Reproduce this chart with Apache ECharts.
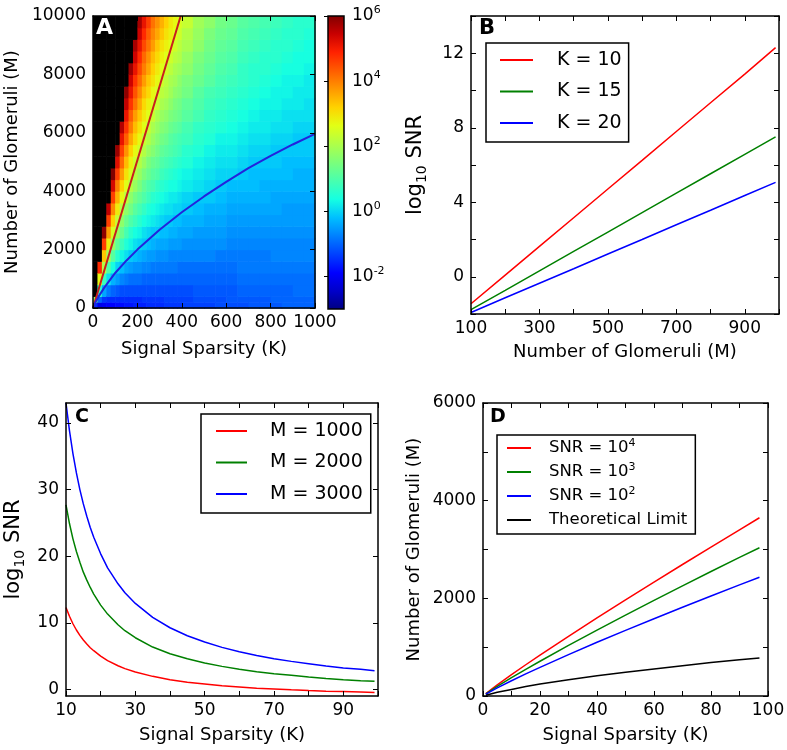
<!DOCTYPE html>
<html><head><meta charset="utf-8">
<script src="https://cdn.jsdelivr.net/npm/echarts@6/dist/echarts.min.js"></script>
<style>html,body{margin:0;padding:0;background:#fff}#c{width:787px;height:750px}</style>
</head><body><div id="c"></div>
<script>
// ---------------- Panel A: log10 SNR map (columns of K, rows of M, bottom to top)
const kEdgesA = [0,20,40,60,80,100,120,140,160,180,200,220,240,260,280,300,320,340,360,380,400,450,500,550,600,650,700,750,800,850,900,950,1000];
const mEdgesA = [0,200,400,800,1200,1600,2000,2400,2800,3200,3600,4000,4400,4800,5200,5600,6000,6400,6800,7200,7600,8000,8400,8800,9200,9600,10000];
// 7 marks cells that are above the colour scale (drawn black)
const logSnrA = [
 [-1.5,1.7,7,7,7,7,7,7,7,7,7,7,7,7,7,7,7,7,7,7,7,7,7,7,7,7],
 [-2.1,-1.0,0.6,2.7,4.8,7,7,7,7,7,7,7,7,7,7,7,7,7,7,7,7,7,7,7,7,7],
 [-2.0,-1.4,-0.4,0.8,2.1,3.3,4.6,5.9,7,7,7,7,7,7,7,7,7,7,7,7,7,7,7,7,7,7],
 [-1.9,-1.5,-0.8,0.1,1.0,1.9,2.8,3.7,4.6,5.5,7,7,7,7,7,7,7,7,7,7,7,7,7,7,7,7],
 [-1.9,-1.5,-1.0,-0.3,0.4,1.1,1.8,2.5,3.2,3.9,4.6,5.3,6.0,7,7,7,7,7,7,7,7,7,7,7,7,7],
 [-1.8,-1.5,-1.1,-0.5,0.0,0.6,1.2,1.8,2.3,2.9,3.5,4.0,4.6,5.2,5.8,7,7,7,7,7,7,7,7,7,7,7],
 [-1.8,-1.5,-1.2,-0.7,-0.2,0.3,0.8,1.3,1.7,2.2,2.7,3.2,3.7,4.2,4.6,5.1,5.6,7,7,7,7,7,7,7,7,7],
 [-1.7,-1.5,-1.2,-0.8,-0.4,0.1,0.5,0.9,1.3,1.7,2.2,2.6,3.0,3.4,3.8,4.3,4.7,5.1,5.5,5.9,7,7,7,7,7,7],
 [-1.7,-1.5,-1.2,-0.9,-0.5,-0.1,0.3,0.6,1.0,1.4,1.7,2.1,2.5,2.8,3.2,3.6,4.0,4.3,4.7,5.1,5.4,5.8,7,7,7,7],
 [-1.6,-1.5,-1.2,-0.9,-0.6,-0.2,0.1,0.4,0.8,1.1,1.4,1.8,2.1,2.4,2.7,3.1,3.4,3.7,4.1,4.4,4.7,5.1,5.4,5.7,7,7],
 [-1.6,-1.5,-1.2,-0.9,-0.6,-0.3,0.0,0.3,0.6,0.9,1.2,1.5,1.8,2.1,2.4,2.7,3.0,3.3,3.6,3.9,4.2,4.5,4.8,5.1,5.4,5.7],
 [-1.6,-1.4,-1.2,-1.0,-0.7,-0.4,-0.1,0.1,0.4,0.7,1.0,1.2,1.5,1.8,2.1,2.3,2.6,2.9,3.1,3.4,3.7,4.0,4.2,4.5,4.8,5.1],
 [-1.5,-1.4,-1.2,-1.0,-0.7,-0.5,-0.2,0.0,0.3,0.5,0.8,1.0,1.3,1.5,1.8,2.1,2.3,2.6,2.8,3.1,3.3,3.6,3.8,4.1,4.3,4.6],
 [-1.5,-1.4,-1.2,-1.0,-0.8,-0.5,-0.3,-0.1,0.2,0.4,0.6,0.9,1.1,1.3,1.6,1.8,2.0,2.3,2.5,2.7,3.0,3.2,3.4,3.7,3.9,4.1],
 [-1.5,-1.4,-1.2,-1.0,-0.8,-0.6,-0.4,-0.1,0.1,0.3,0.5,0.7,1.0,1.2,1.4,1.6,1.8,2.0,2.3,2.5,2.7,2.9,3.1,3.3,3.6,3.8],
 [-1.5,-1.4,-1.2,-1.0,-0.8,-0.6,-0.4,-0.2,0.0,0.2,0.4,0.6,0.8,1.0,1.2,1.4,1.6,1.8,2.0,2.2,2.4,2.6,2.8,3.0,3.3,3.5],
 [-1.4,-1.3,-1.2,-1.0,-0.8,-0.6,-0.4,-0.2,-0.1,0.1,0.3,0.5,0.7,0.9,1.1,1.3,1.5,1.7,1.9,2.1,2.2,2.4,2.6,2.8,3.0,3.2],
 [-1.4,-1.3,-1.2,-1.0,-0.8,-0.7,-0.5,-0.3,-0.1,0.1,0.2,0.4,0.6,0.8,1.0,1.1,1.3,1.5,1.7,1.9,2.0,2.2,2.4,2.6,2.8,2.9],
 [-1.4,-1.3,-1.2,-1.0,-0.8,-0.7,-0.5,-0.3,-0.2,0.0,0.2,0.4,0.5,0.7,0.9,1.0,1.2,1.4,1.5,1.7,1.9,2.0,2.2,2.4,2.6,2.7],
 [-1.4,-1.3,-1.2,-1.0,-0.9,-0.7,-0.5,-0.4,-0.2,0.0,0.1,0.3,0.4,0.6,0.8,0.9,1.1,1.3,1.4,1.6,1.7,1.9,2.1,2.2,2.4,2.5],
 [-1.3,-1.3,-1.2,-1.0,-0.9,-0.7,-0.6,-0.4,-0.3,-0.1,0.0,0.2,0.3,0.5,0.6,0.8,0.9,1.1,1.2,1.4,1.5,1.7,1.8,2.0,2.1,2.3],
 [-1.3,-1.2,-1.1,-1.0,-0.9,-0.7,-0.6,-0.5,-0.3,-0.2,-0.1,0.1,0.2,0.3,0.5,0.6,0.7,0.9,1.0,1.1,1.3,1.4,1.5,1.7,1.8,1.9],
 [-1.3,-1.2,-1.1,-1.0,-0.9,-0.7,-0.6,-0.5,-0.4,-0.3,-0.1,0.0,0.1,0.2,0.3,0.5,0.6,0.7,0.8,0.9,1.1,1.2,1.3,1.4,1.5,1.7],
 [-1.2,-1.2,-1.1,-1.0,-0.9,-0.8,-0.6,-0.5,-0.4,-0.3,-0.2,-0.1,0.0,0.1,0.2,0.3,0.5,0.6,0.7,0.8,0.9,1.0,1.1,1.2,1.3,1.4],
 [-1.2,-1.1,-1.1,-1.0,-0.9,-0.8,-0.7,-0.6,-0.5,-0.4,-0.3,-0.2,0.0,0.1,0.2,0.3,0.4,0.5,0.6,0.7,0.8,0.9,1.0,1.1,1.2,1.3],
 [-1.2,-1.1,-1.0,-0.9,-0.8,-0.8,-0.7,-0.6,-0.5,-0.4,-0.3,-0.2,-0.1,0.0,0.1,0.2,0.3,0.4,0.5,0.6,0.7,0.7,0.8,0.9,1.0,1.1],
 [-1.1,-1.1,-1.0,-0.9,-0.8,-0.8,-0.7,-0.6,-0.5,-0.4,-0.3,-0.2,-0.2,-0.1,0.0,0.1,0.2,0.3,0.4,0.5,0.6,0.6,0.7,0.8,0.9,1.0],
 [-1.1,-1.1,-1.0,-0.9,-0.8,-0.8,-0.7,-0.6,-0.5,-0.4,-0.3,-0.3,-0.2,-0.1,0.0,0.1,0.2,0.2,0.3,0.4,0.5,0.6,0.6,0.7,0.8,0.9],
 [-1.1,-1.0,-1.0,-0.9,-0.8,-0.7,-0.7,-0.6,-0.5,-0.4,-0.4,-0.3,-0.2,-0.1,-0.1,0.0,0.1,0.2,0.3,0.3,0.4,0.5,0.6,0.6,0.7,0.8],
 [-1.0,-1.0,-1.0,-0.9,-0.8,-0.7,-0.7,-0.6,-0.5,-0.5,-0.4,-0.3,-0.2,-0.2,-0.1,0.0,0.1,0.1,0.2,0.3,0.3,0.4,0.5,0.6,0.6,0.7],
 [-1.0,-1.0,-0.9,-0.9,-0.8,-0.7,-0.7,-0.6,-0.5,-0.5,-0.4,-0.3,-0.3,-0.2,-0.1,-0.1,0.0,0.1,0.2,0.2,0.3,0.4,0.4,0.5,0.6,0.6],
 [-1.0,-1.0,-0.9,-0.9,-0.8,-0.7,-0.7,-0.6,-0.5,-0.5,-0.4,-0.3,-0.3,-0.2,-0.1,-0.1,0.0,0.1,0.1,0.2,0.2,0.3,0.4,0.4,0.5,0.6]
];
const redLineA_K = [0, 395];
const redLineA_M = [0, 10000];
const blueCurveA_K = [0, 10, 25, 50, 100, 150, 200, 300, 400, 500, 600, 700, 800, 900, 1000];
const blueCurveA_M = [0, 180, 390, 690, 1200, 1620, 2000, 2680, 3280, 3820, 4320, 4790, 5210, 5600, 5960];
const colorbarExp = [-2, 0, 2, 4, 6];

// ---------------- Panel B
const mB = [100, 200, 300, 400, 500, 600, 700, 800, 900, 990];
const bK10 = [-1.45, 0.09, 1.63, 3.17, 4.71, 6.25, 7.80, 9.34, 10.88, 12.3];
const bK15 = [-1.77, -0.73, 0.32, 1.36, 2.40, 3.44, 4.49, 5.53, 6.57, 7.51];
const bK20 = [-1.92, -1.13, -0.35, 0.43, 1.22, 2.00, 2.79, 3.57, 4.36, 5.07];

// ---------------- Panel C
const kC = [10, 11, 12, 13, 14, 15, 16, 17, 18, 20, 22, 25, 27, 30, 35, 40, 45, 50, 55, 60, 65, 70, 75, 80, 85, 90, 95, 99];
const cM1000 = [12.3, 10.98, 9.85, 8.91, 8.1, 7.4, 6.8, 6.25, 5.8, 5.0, 4.31, 3.55, 3.11, 2.6, 1.95, 1.45, 1.06, 0.8, 0.53, 0.35, 0.17, 0.05, -0.08, -0.18, -0.27, -0.34, -0.41, -0.46];
const cM2000 = [27.7, 24.9, 22.6, 20.7, 19.1, 17.6, 16.4, 15.3, 14.3, 12.65, 11.3, 9.7, 8.8, 7.75, 6.35, 5.35, 4.6, 3.95, 3.45, 3.0, 2.65, 2.35, 2.1, 1.85, 1.64, 1.45, 1.3, 1.2];
const cM3000 = [43.0, 38.85, 35.4, 32.5, 30.0, 27.85, 26.0, 24.3, 22.85, 20.35, 18.25, 15.85, 14.5, 12.9, 10.8, 9.25, 8.05, 7.1, 6.3, 5.65, 5.08, 4.6, 4.2, 3.85, 3.5, 3.2, 3.0, 2.8];

// ---------------- Panel D
const kD = [1, 5, 10, 15, 20, 30, 40, 50, 60, 70, 80, 90, 97];
const dSnr4 = [50, 228, 437, 640, 837, 1223, 1600, 1969, 2333, 2693, 3049, 3401, 3650];
const dSnr3 = [44, 197, 375, 546, 712, 1036, 1350, 1657, 1958, 2255, 2549, 2838, 3035];
const dSnr2 = [38, 166, 312, 452, 587, 848, 1100, 1344, 1583, 1818, 2049, 2276, 2433];
const dLimit = [15, 75, 135, 195, 245, 335, 415, 485, 555, 620, 685, 740, 779];

// ---------------- styling
const FONT = 'DejaVu Sans';
const JET = ['#000080','#0000c8','#0000ff','#0040ff','#0080ff','#00bfff','#15ffe2','#48ffaf','#7bff7b','#afff48','#e2ff15','#ffd200','#ff9700','#ff5c00','#ff2100','#c80000','#800000'];
const zip = (a, b) => a.map((v, i) => [v, b[i]]);

const xAxis = [], yAxis = [];
const tickBase = {show: true, inside: true, length: 5, lineStyle: {color: '#000', width: 1}};
const lineBase = {show: true, onZero: false, lineStyle: {color: '#000', width: 1.5}};
const labBase = {color: '#000', fontFamily: FONT, fontSize: 17};
function tickOf(o) { return o.ticks ? Object.assign({}, tickBase, {customValues: o.ticks}) : tickBase; }
function labOf(o, margin) {
  const l = Object.assign({}, labBase, {margin: margin});
  l.formatter = o.fmt || (v => String(v));
  if (o.labels) l.customValues = o.labels;
  return l;
}
function addFrame(g, xo, yo) {
  const xi = xAxis.length, yi = yAxis.length;
  const xb = {gridIndex: g, type: 'value', min: xo.min, max: xo.max, z: 10, axisLine: lineBase, splitLine: {show: false}};
  if (xo.interval) xb.interval = xo.interval;
  xAxis.push(Object.assign({}, xb, {position: 'bottom', axisTick: tickOf(xo), axisLabel: labOf(xo, 6),
    name: xo.name, nameLocation: 'middle', nameGap: xo.nameGap,
    nameTextStyle: {color: '#000', fontFamily: FONT, fontSize: 18}}));
  xAxis.push(Object.assign({}, xb, {position: 'top', axisTick: tickOf(xo), axisLabel: {show: false}}));
  const yb = {gridIndex: g, type: 'value', min: yo.min, max: yo.max, z: 10, axisLine: lineBase, splitLine: {show: false}};
  if (yo.interval) yb.interval = yo.interval;
  yAxis.push(Object.assign({}, yb, {position: 'left', axisTick: tickOf(yo), axisLabel: labOf(yo, 7),
    name: yo.name, nameLocation: 'middle', nameGap: yo.nameGap,
    nameTextStyle: yo.nameStyle || {color: '#000', fontFamily: FONT, fontSize: 18}}));
  yAxis.push(Object.assign({}, yb, {position: 'right', axisTick: tickOf(yo), axisLabel: {show: false}}));
  return {xi, yi};
}
const logName = {color: '#000', fontFamily: FONT, fontSize: 21,
  rich: {a: {fontFamily: FONT, fontSize: 21, lineHeight: 26, verticalAlign: 'middle', color: '#000'},
         s: {fontFamily: FONT, fontSize: 14, lineHeight: 14, verticalAlign: 'bottom', color: '#000'}}};
const logText = '{a|log}{s|10}{a| SNR}';

// A
const fA = addFrame(0,
  {min: 0, max: 1000, interval: 200, name: 'Signal Sparsity (K)', nameGap: 32},
  {min: 0, max: 10000, interval: 2000, name: 'Number of Glomeruli (M)', nameGap: 72});
// colorbar axes
const cbX = xAxis.length; xAxis.push({gridIndex: 1, type: 'value', min: 0, max: 1, show: false});
const cbY = yAxis.length; yAxis.push({gridIndex: 1, type: 'value', min: -3, max: 6, position: 'right', z: 10,
  axisLine: {show: false}, splitLine: {show: false},
  axisTick: {show: true, inside: true, length: 4, customValues: colorbarExp, lineStyle: {color: '#000', width: 1}},
  axisLabel: {customValues: colorbarExp, margin: 8, color: '#000', fontFamily: FONT, fontSize: 17,
    formatter: v => '{b|10}{s|' + v + '}',
    rich: {b: {fontFamily: FONT, fontSize: 17, lineHeight: 22, color: '#000'},
           s: {fontFamily: FONT, fontSize: 11, lineHeight: 12, verticalAlign: 'top', color: '#000'}}}});
// B
const fB = addFrame(2,
  {min: 100, max: 1000, interval: 100, fmt: v => ((v - 100) % 200 === 0 && v < 1000) ? String(v) : '', name: 'Number of Glomeruli (M)', nameGap: 29},
  {min: -2, max: 14, interval: 2, fmt: v => (v >= 0 && v <= 12 && v % 4 === 0) ? String(v) : '', name: logText, nameGap: 42, nameStyle: logName});
// C
const fC = addFrame(3,
  {min: 10, max: 100, interval: 10, fmt: v => ((v - 10) % 20 === 0 && v < 100) ? String(v) : '', name: 'Signal Sparsity (K)', nameGap: 30},
  {min: -1, max: 43, ticks: [0, 10, 20, 30, 40], labels: [0, 10, 20, 30, 40], name: logText, nameGap: 39, nameStyle: logName});
// D
const fD = addFrame(4,
  {min: 0, max: 100, interval: 10, fmt: v => (v % 20 === 0) ? String(v) : '', name: 'Signal Sparsity (K)', nameGap: 30},
  {min: 0, max: 6000, interval: 1000, fmt: v => (v % 2000 === 0) ? String(v) : '', name: 'Number of Glomeruli (M)', nameGap: 60});

const cellsA = [];
for (let i = 0; i < logSnrA.length; i++)
  for (let j = 0; j < logSnrA[i].length; j++)
    cellsA.push([kEdgesA[i], kEdgesA[i + 1], mEdgesA[j], mEdgesA[j + 1], logSnrA[i][j]]);

function ln(name, color, xi, yi, data, w) {
  return {type: 'line', name: name, xAxisIndex: xi, yAxisIndex: yi, data: data, showSymbol: false, symbol: 'none',
    smooth: false, lineStyle: {color: color, width: w || 1.5}, itemStyle: {color: color}, silent: true, z: 3};
}

const series = [
  {type: 'custom', xAxisIndex: fA.xi, yAxisIndex: fA.yi, data: cellsA, encode: {x: [0, 1], y: [2, 3]}, silent: true,
   renderItem: (params, api) => {
     const p0 = api.coord([api.value(0), api.value(2)]);
     const p1 = api.coord([api.value(1), api.value(3)]);
     return {type: 'rect', shape: {x: p0[0], y: p1[1], width: p1[0] - p0[0] + 0.6, height: p0[1] - p1[1] + 0.6},
       style: {fill: api.visual('color')}};
   }},
  ln('redA', '#c81e1e', fA.xi, fA.yi, zip(redLineA_K, redLineA_M), 2),
  ln('blueA', '#2323dc', fA.xi, fA.yi, zip(blueCurveA_K, blueCurveA_M), 2),
  {type: 'line', xAxisIndex: cbX, yAxisIndex: cbY, data: [], silent: true},
  ln('K = 10', '#ff0000', fB.xi, fB.yi, zip(mB, bK10)),
  ln('K = 15', '#008000', fB.xi, fB.yi, zip(mB, bK15)),
  ln('K = 20', '#0000ff', fB.xi, fB.yi, zip(mB, bK20)),
  ln('M = 1000', '#ff0000', fC.xi, fC.yi, zip(kC, cM1000)),
  ln('M = 2000', '#008000', fC.xi, fC.yi, zip(kC, cM2000)),
  ln('M = 3000', '#0000ff', fC.xi, fC.yi, zip(kC, cM3000)),
  ln('SNR = 10^4', '#ff0000', fD.xi, fD.yi, zip(kD, dSnr4)),
  ln('SNR = 10^3', '#008000', fD.xi, fD.yi, zip(kD, dSnr3)),
  ln('SNR = 10^2', '#0000ff', fD.xi, fD.yi, zip(kD, dSnr2)),
  ln('Theoretical Limit', '#000000', fD.xi, fD.yi, zip(kD, dLimit))
];

function legend(names, left, top, pad, iw, gap, spacer, fs, lh) {
  return {data: names, orient: 'vertical', left: left, top: top, padding: pad, itemGap: gap,
    itemWidth: iw, itemHeight: 2, icon: 'rect', borderColor: '#000', borderWidth: 1.5, borderRadius: 0,
    backgroundColor: '#fff', selectedMode: false,
    formatter: n => '{g|}' + n.replace(/\^(\d)/, '{s|$1}'),
    textStyle: {fontFamily: FONT, fontSize: fs, color: '#000', lineHeight: lh,
      rich: {g: {width: spacer, lineHeight: lh}, s: {fontFamily: FONT, fontSize: 11, lineHeight: 12, verticalAlign: 'top', color: '#000'}}}};
}

const stops = JET.map((c, i) => ({offset: i / (JET.length - 1), color: c}));
const letter = (t, x, y, size, color) => ({type: 'text', left: x, top: y, z: 100,
  style: {text: t, fill: color, font: 'bold ' + size + 'px "DejaVu Sans"'}});

const option = {
  animation: false,
  backgroundColor: '#fff',
  textStyle: {fontFamily: FONT},
  grid: [
    {left: 93, top: 16, width: 222, height: 292, outerBoundsMode: 'none'},
    {left: 328, top: 16, width: 16, height: 293, outerBoundsMode: 'none'},
    {left: 471, top: 16, width: 308, height: 298, outerBoundsMode: 'none'},
    {left: 66, top: 403, width: 312, height: 293, outerBoundsMode: 'none'},
    {left: 483, top: 403, width: 285, height: 293, outerBoundsMode: 'none'}
  ],
  xAxis: xAxis,
  yAxis: yAxis,
  visualMap: {type: 'continuous', show: false, min: -3, max: 6, range: [-3, 6], unboundedRange: false,
    dimension: 4, seriesIndex: 0,
    inRange: {color: JET}, outOfRange: {color: ['#000000']}},
  legend: [
    legend(['K = 10', 'K = 15', 'K = 20'], 486, 43, [6, 7, 8, 14], 33, 9.5, 19, 19, 22),
    legend(['M = 1000', 'M = 2000', 'M = 3000'], 201, 414, [6, 8, 8, 15], 31, 9.5, 18, 19, 22),
    legend(['SNR = 10^4', 'SNR = 10^3', 'SNR = 10^2', 'Theoretical Limit'], 497, 435, [3, 8, 4, 10], 24, 4, 13, 16.5, 20)
  ],
  graphic: {elements: [
    {type: 'rect', shape: {x: 328, y: 16, width: 16, height: 293}, z: 5,
     style: {fill: new echarts.graphic.LinearGradient(0, 1, 0, 0, stops), stroke: '#000', lineWidth: 1.5}},
    letter('A', 96, 17, 22, '#fff'),
    letter('B', 479, 18, 21, '#000'),
    letter('C', 75, 408, 19, '#000'),
    letter('D', 490, 408, 19, '#000')
  ]},
  series: series
};
const chart = echarts.init(document.getElementById('c'), null, {renderer: 'canvas'});
chart.setOption(option);
</script>
</body></html>
